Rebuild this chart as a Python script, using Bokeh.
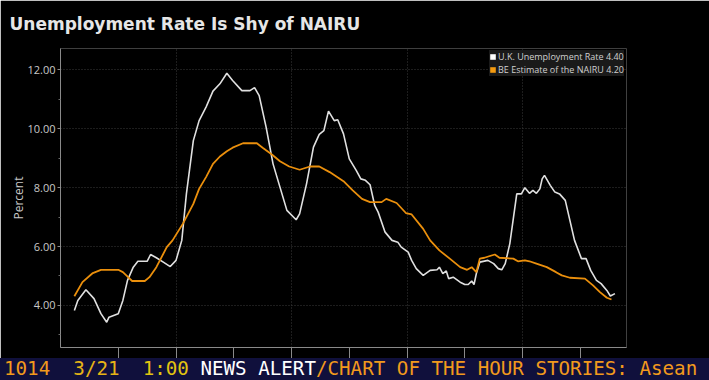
from bokeh.plotting import figure
from bokeh.models import (FixedTicker, Legend, LegendItem, Div, Range1d,
                          NumeralTickFormatter, CustomJSTickFormatter)
from bokeh.layouts import column
from bokeh.embed import file_html
from bokeh.resources import INLINE

# ---------------- data ----------------
unemp_years = [1971.2, 1971.5, 1972.2, 1972.9, 1973.5, 1974.0, 1974.2, 1975.0, 1975.4, 1975.8,
               1976.3, 1976.7, 1977.5, 1977.8, 1978.3, 1978.9, 1979.5, 1980.0, 1980.5, 1980.9,
               1981.5, 1982.0, 1982.6, 1983.2, 1983.8, 1984.4, 1984.9, 1985.7, 1986.4, 1986.8,
               1987.2, 1987.8, 1988.4, 1989.0, 1989.6, 1990.4, 1990.7, 1991.3, 1991.9, 1992.4,
               1992.8, 1993.2, 1993.7, 1994.0, 1994.5, 1995.0, 1995.6, 1996.0, 1996.4, 1996.8,
               1997.2, 1997.5, 1998.1, 1998.7, 1999.2, 1999.5, 2000.1, 2000.4, 2000.8, 2001.4,
               2002.0, 2002.6, 2002.8, 2003.1, 2003.4, 2003.6, 2004.0, 2004.6, 2005.0, 2005.3,
               2005.6, 2005.8, 2006.0, 2006.3, 2007.0, 2007.5, 2007.9, 2008.2, 2008.5, 2008.9,
               2009.5, 2009.9, 2010.2, 2010.6, 2010.9, 2011.2, 2011.5, 2011.7, 2011.9, 2012.4,
               2012.8, 2013.2, 2013.7, 2014.1, 2014.5, 2015.1, 2015.5, 2015.9, 2016.4, 2016.8,
               2017.3, 2017.6, 2018.0]
unemp_rate = [3.83, 4.17, 4.53, 4.23, 3.72, 3.43, 3.60, 3.72, 4.17, 4.85,
              5.30, 5.50, 5.50, 5.73, 5.62, 5.47, 5.32, 5.53, 6.21, 7.79,
              9.60, 10.28, 10.74, 11.28, 11.53, 11.89, 11.64, 11.30, 11.30, 11.40,
              11.13, 10.06, 8.81, 8.02, 7.23, 6.91, 7.11, 8.13, 9.38, 9.81,
              9.94, 10.60, 10.28, 10.31, 9.83, 8.98, 8.59, 8.30, 8.25, 8.10,
              7.40, 7.17, 6.49, 6.21, 6.15, 5.98, 5.81, 5.53, 5.25, 5.02,
              5.19, 5.21, 5.30, 5.08, 5.17, 4.91, 4.96, 4.79, 4.71, 4.71,
              4.83, 4.71, 5.08, 5.47, 5.53, 5.42, 5.25, 5.21, 5.42, 6.10,
              7.79, 7.79, 8.00, 7.81, 7.91, 7.81, 7.96, 8.30, 8.42, 8.08,
              7.85, 7.79, 7.57, 6.89, 6.21, 5.59, 5.59, 5.19, 4.85, 4.74,
              4.51, 4.32, 4.40]

nairu_years = [1971.2, 1971.9, 1972.8, 1973.5, 1975.0, 1975.4, 1975.7, 1976.2, 1977.3, 1977.7,
               1978.3, 1979.2, 1979.7, 1980.6, 1981.5, 1982.0, 1982.6, 1983.2, 1983.8, 1984.4,
               1984.9, 1985.8, 1987.0, 1987.5, 1988.3, 1989.0, 1989.8, 1990.7, 1991.6, 1992.4,
               1993.3, 1994.5, 1995.3, 1996.1, 1996.8, 1997.8, 1998.2, 1999.1, 1999.9, 2000.4,
               2001.4, 2002.0, 2002.8, 2003.7, 2004.6, 2005.2, 2005.6, 2006.0, 2006.3, 2006.7,
               2007.6, 2008.0, 2009.2, 2009.6, 2010.2, 2010.6, 2011.2, 2012.1, 2012.9, 2013.4,
               2014.1, 2015.4, 2016.1, 2016.7, 2017.3, 2017.7]
nairu_rate = [4.31, 4.79, 5.10, 5.21, 5.21, 5.13, 5.02, 4.83, 4.83, 4.96,
              5.30, 5.98, 6.21, 6.78, 7.45, 7.96, 8.36, 8.81, 9.06, 9.24,
              9.36, 9.51, 9.51, 9.36, 9.13, 8.90, 8.72, 8.61, 8.72, 8.72,
              8.53, 8.22, 7.91, 7.62, 7.51, 7.51, 7.62, 7.48, 7.14, 7.09,
              6.60, 6.21, 5.87, 5.59, 5.30, 5.21, 5.30, 5.13, 5.59, 5.62,
              5.73, 5.62, 5.59, 5.50, 5.53, 5.50, 5.42, 5.30, 5.13, 5.02,
              4.94, 4.91, 4.68, 4.45, 4.26, 4.20]

series_names = ["U.K. Unemployment Rate", "BE Estimate of the NAIRU"]
x_ticks = [1975, 1980, 1985, 1990, 1995, 2000, 2005, 2010, 2015]
x_grid_ticks = [1980, 1990, 2000, 2010]
y_ticks = [4, 6, 8, 10, 12]
y_minor_ticks = [3, 5, 7, 9, 11]
title_text = "Unemployment Rate Is Shy of NAIRU"
ticker_parts = [("1014", "#f29a1c"), ("  ", "#f29a1c"), ("3/21", "#e6b416"), ("  ", "#e6b416"),
                ("1:00", "#e2c410"), (" ", "#e2c410"), ("NEWS ALERT", "#ffffff"),
                ("/CHART OF THE HOUR STORIES: Asean", "#f29a1c")]

WHITE = "#e0e0e0"
ORANGE = "#ea8f0c"
NAN = float("nan")

# ---------------- figure ----------------
p = figure(width=709, height=358, output_backend="svg", toolbar_location=None,
           x_range=Range1d(1970, 2019), y_range=Range1d(2.57, 12.73),
           min_border_left=60, min_border_right=83, min_border_top=48, min_border_bottom=11,
           background_fill_color="black", border_fill_color="black",
           outline_line_color=None)

p.title.text = title_text
p.title.text_font = "DejaVu Sans"
p.title.text_font_style = "bold"
p.title.text_font_size = "17px"
p.title.text_color = "#e6e6e6"
p.title.offset = -51
p.title.vertical_align = "top"
p.title.standoff = 25

p.line(unemp_years, unemp_rate, line_color=WHITE, line_width=1.6)
p.line(nairu_years, nairu_rate, line_color=ORANGE, line_width=1.8)

# axes
p.xaxis.ticker = FixedTicker(ticks=x_ticks)
p.xaxis.formatter = CustomJSTickFormatter(code="return ''")
p.xaxis.major_label_standoff = 0
p.xaxis.major_tick_out = 11
p.xaxis.major_tick_in = 0
p.xaxis.minor_tick_out = 0
p.xaxis.axis_line_color = "#8a8a8a"
p.xaxis.major_tick_line_color = "#8a8a8a"

p.yaxis.ticker = FixedTicker(ticks=y_ticks, minor_ticks=y_minor_ticks)
p.yaxis.formatter = NumeralTickFormatter(format="0.00")
p.yaxis.axis_label = "Percent"
p.yaxis.axis_label_text_font = "Open Sans"
p.yaxis.axis_label_text_font_style = "normal"
p.yaxis.axis_label_text_font_size = "12px"
p.yaxis.axis_label_text_color = "#c8c8c8"
p.yaxis.axis_label_standoff = -3
p.yaxis.major_label_text_font = "Open Sans"
p.yaxis.major_label_text_font_size = "11px"
p.yaxis.major_label_text_color = "#c8c8c8"
p.yaxis.major_label_standoff = 2
p.yaxis.major_tick_out = 3
p.yaxis.major_tick_in = 0
p.yaxis.minor_tick_out = 2
p.yaxis.minor_tick_in = 0
p.yaxis.axis_line_color = "#8a8a8a"
p.yaxis.major_tick_line_color = "#8a8a8a"
p.yaxis.minor_tick_line_color = "#6a6a6a"

p.xgrid.ticker = FixedTicker(ticks=x_grid_ticks)
p.xgrid.grid_line_color = "#3a3a3a"
p.xgrid.grid_line_dash = "1 2"
p.ygrid.grid_line_color = "#3a3a3a"
p.ygrid.grid_line_dash = "1 2"

# legend (square swatches; placeholder renderers draw nothing in the plot)
sw_u = p.quad(left=[NAN], right=[NAN], top=[NAN], bottom=[NAN],
              fill_color="#ffffff", line_color=None)
sw_n = p.quad(left=[NAN], right=[NAN], top=[NAN], bottom=[NAN],
              fill_color="#f39a10", line_color=None)
legend = Legend(items=[
    LegendItem(label=f"{series_names[0]} {unemp_rate[-1]:.2f}", renderers=[sw_u]),
    LegendItem(label=f"{series_names[1]} {nairu_rate[-1]:.2f}", renderers=[sw_n]),
], location="top_right")
legend.margin = 2
legend.padding = 4
legend.spacing = 0
legend.glyph_width = 7
legend.glyph_height = 7
legend.label_height = 10
legend.label_standoff = 2
legend.label_text_font = "Open Sans"
legend.label_text_font_size = "9px"
legend.label_text_color = "#d0d0d0"
legend.background_fill_color = "#1a1a1a"
legend.background_fill_alpha = 1
legend.border_line_color = None
p.add_layout(legend)

# ticker bar
spans = "".join(f'<span style="color:{c}">{t}</span>' for t, c in ticker_parts)
ticker_html = ('<div style="font-family:\'DejaVu Sans Mono\',monospace;font-size:19.2px;'
               'line-height:22px;white-space:pre;overflow:hidden;width:705px;height:22px;'
               'padding-left:4px;">' + spans + '</div>')
ticker = Div(text=ticker_html, width=709, height=22, margin=0,
             styles={"background-color": "#10103c", "overflow": "hidden"})

layout = column(p, ticker, spacing=0)

open("out.html", "w").write(file_html(layout, INLINE))
